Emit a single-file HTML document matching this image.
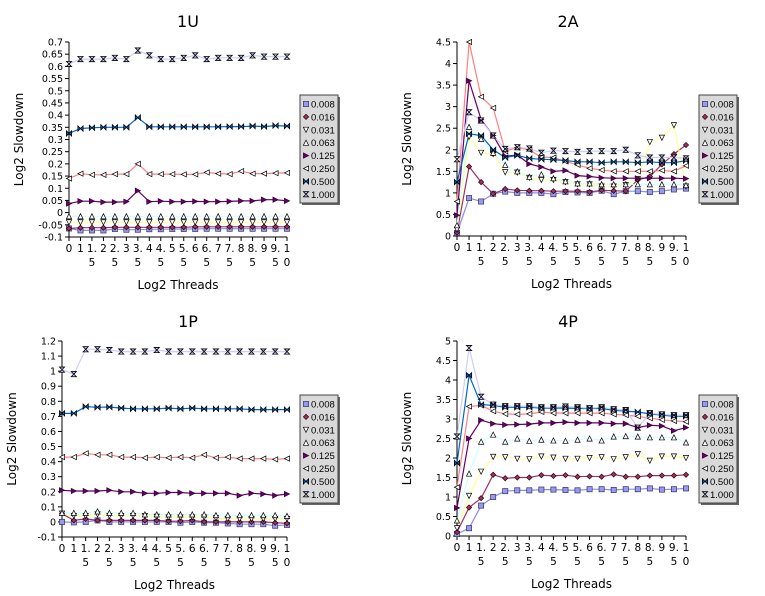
<!DOCTYPE html>
<html><head><meta charset="utf-8">
<style>
html,body{margin:0;padding:0;background:#fff;}
svg{display:block;font-family:"DejaVu Sans","Liberation Sans",sans-serif;}
</style></head>
<body>
<svg id="chart" width="765" height="596" viewBox="0 0 765 596" xmlns="http://www.w3.org/2000/svg"></svg>
<script>
const categories = ["0","1","1.5","2","2.5","3","3.5","4","4.5","5","5.5","6","6.5","7","7.5","8","8.5","9","9.5","10"];
const seriesNames = ["0.008","0.016","0.031","0.063","0.125","0.250","0.500","1.000"];

const u1_008 = [-0.065,-0.073,-0.073,-0.073,-0.067,-0.07,-0.07,-0.068,-0.068,-0.067,-0.067,-0.067,-0.066,-0.066,-0.066,-0.066,-0.066,-0.066,-0.066,-0.066];
const u1_016 = [-0.065,-0.062,-0.062,-0.062,-0.06,-0.06,-0.06,-0.06,-0.06,-0.06,-0.06,-0.058,-0.058,-0.058,-0.058,-0.058,-0.058,-0.058,-0.058,-0.058];
const u1_031 = [-0.04,-0.04,-0.04,-0.04,-0.04,-0.04,-0.04,-0.04,-0.04,-0.04,-0.04,-0.04,-0.04,-0.04,-0.04,-0.04,-0.04,-0.04,-0.04,-0.04];
const u1_063 = [-0.015,-0.015,-0.015,-0.015,-0.015,-0.015,-0.015,-0.015,-0.015,-0.015,-0.015,-0.015,-0.015,-0.015,-0.015,-0.015,-0.015,-0.015,-0.015,-0.015];
const u1_125 = [0.037,0.047,0.047,0.043,0.043,0.045,0.09,0.045,0.047,0.045,0.045,0.046,0.045,0.045,0.046,0.048,0.048,0.053,0.053,0.048];
const u1_250 = [0.14,0.16,0.155,0.155,0.158,0.158,0.2,0.158,0.158,0.158,0.157,0.157,0.165,0.16,0.158,0.17,0.16,0.16,0.162,0.163];
const u1_500 = [0.325,0.345,0.348,0.35,0.35,0.35,0.39,0.352,0.352,0.352,0.352,0.352,0.352,0.352,0.353,0.353,0.355,0.353,0.357,0.355];
const u1_1000 = [0.61,0.63,0.63,0.63,0.635,0.63,0.665,0.645,0.63,0.63,0.635,0.645,0.63,0.635,0.635,0.635,0.645,0.64,0.64,0.64];

const a2_008 = [0.07,0.88,0.8,0.98,1.03,1.0,1.0,1.0,0.97,1.02,1.01,1.0,1.05,0.97,1.04,1.04,1.02,1.04,1.08,1.1];
const a2_016 = [0.08,1.61,1.25,0.98,1.09,1.06,1.05,1.05,1.04,1.04,1.04,1.02,1.06,1.05,1.04,1.3,1.38,1.66,1.9,2.11];
const a2_031 = [0.15,2.3,1.93,1.9,1.48,1.47,1.35,1.3,1.3,1.25,1.2,1.2,1.15,1.15,1.18,1.32,2.18,2.28,2.57,1.15];
const a2_063 = [0.25,2.53,2.25,1.93,1.65,1.5,1.37,1.43,1.34,1.27,1.22,1.22,1.2,1.2,1.2,1.2,1.2,1.2,1.2,1.18];
const a2_125 = [0.48,3.6,2.7,2.33,1.85,1.88,1.67,1.6,1.5,1.52,1.4,1.38,1.35,1.34,1.34,1.34,1.34,1.34,1.34,1.33];
const a2_250 = [0.8,4.5,3.23,2.97,1.97,2.05,2.0,1.83,1.82,1.73,1.65,1.57,1.53,1.5,1.5,1.5,1.5,1.52,1.5,1.63];
const a2_500 = [1.25,2.37,2.33,2.0,1.82,1.87,1.8,1.78,1.77,1.75,1.72,1.72,1.7,1.72,1.72,1.7,1.72,1.7,1.7,1.75];
const a2_1000 = [1.78,2.87,2.68,2.33,2.02,2.06,2.03,1.93,1.98,1.97,1.95,1.97,1.97,1.97,2.0,1.87,1.82,1.82,1.82,1.8];

const p1_008 = [0.0,-0.003,0.0,0.01,0.0,0.0,0.0,0.0,0.0,0.0,-0.005,0.0,-0.005,-0.005,-0.01,-0.015,-0.015,-0.015,-0.025,-0.02];
const p1_016 = [0.055,0.01,0.02,0.01,0.01,0.01,0.01,0.01,0.01,0.005,0.005,0.01,0.0,0.0,0.0,0.0,0.0,0.0,-0.005,-0.01];
const p1_031 = [0.055,0.04,0.04,0.05,0.04,0.04,0.04,0.04,0.035,0.03,0.03,0.03,0.03,0.025,0.02,0.02,0.02,0.02,0.02,0.02];
const p1_063 = [0.06,0.06,0.06,0.07,0.06,0.06,0.06,0.05,0.05,0.05,0.05,0.05,0.05,0.045,0.045,0.045,0.045,0.045,0.045,0.04];
const p1_125 = [0.21,0.205,0.205,0.205,0.21,0.2,0.2,0.19,0.19,0.195,0.195,0.19,0.19,0.19,0.19,0.175,0.19,0.185,0.175,0.185];
const p1_250 = [0.43,0.43,0.455,0.445,0.445,0.43,0.43,0.425,0.43,0.425,0.43,0.425,0.445,0.425,0.43,0.42,0.42,0.42,0.415,0.42];
const p1_500 = [0.72,0.72,0.765,0.76,0.762,0.755,0.75,0.75,0.75,0.755,0.75,0.755,0.75,0.75,0.75,0.75,0.745,0.745,0.745,0.745];
const p1_1000 = [1.01,0.98,1.145,1.145,1.14,1.13,1.13,1.13,1.14,1.13,1.13,1.13,1.13,1.13,1.13,1.13,1.13,1.13,1.13,1.13];

const p4_008 = [0.05,0.2,0.78,1.0,1.15,1.17,1.17,1.19,1.19,1.18,1.17,1.2,1.2,1.18,1.2,1.2,1.22,1.19,1.2,1.22];
const p4_016 = [0.1,0.73,0.97,1.57,1.48,1.5,1.5,1.56,1.54,1.56,1.52,1.53,1.52,1.58,1.52,1.52,1.55,1.55,1.55,1.57];
const p4_031 = [0.2,1.03,1.65,2.03,2.02,1.98,1.97,2.04,2.01,1.98,1.98,2.0,2.02,1.97,2.02,2.1,1.93,2.04,2.04,2.0];
const p4_063 = [0.4,1.6,2.42,2.6,2.42,2.5,2.44,2.47,2.45,2.44,2.47,2.5,2.45,2.55,2.56,2.55,2.53,2.53,2.53,2.4];
const p4_125 = [0.72,2.5,2.97,2.88,2.85,2.86,2.87,2.9,2.9,2.92,2.9,2.9,2.9,2.88,2.88,2.78,2.84,2.82,2.7,2.78];
const p4_250 = [1.25,3.32,3.35,3.2,3.13,3.12,3.13,3.18,3.15,3.15,3.15,3.15,3.15,3.12,3.1,3.07,3.02,2.98,2.95,2.93];
const p4_500 = [1.87,4.12,3.37,3.35,3.3,3.3,3.3,3.28,3.28,3.28,3.27,3.27,3.27,3.22,3.2,3.18,3.13,3.1,3.07,3.07];
const p4_1000 = [2.55,4.82,3.57,3.37,3.33,3.33,3.33,3.3,3.3,3.32,3.3,3.28,3.3,3.25,3.23,2.78,3.15,3.12,3.1,3.1];

const ticks1U = [-0.1,-0.05,0,0.05,0.1,0.15,0.2,0.25,0.3,0.35,0.4,0.45,0.5,0.55,0.6,0.65,0.7];
const ticks1P = [-0.1,0,0.1,0.2,0.3,0.4,0.5,0.6,0.7,0.8,0.9,1,1.1,1.2];
const ticks2A = [0,0.5,1,1.5,2,2.5,3,3.5,4,4.5];
const ticks4P = [0,0.5,1,1.5,2,2.5,3,3.5,4,4.5,5];

const NS = "http://www.w3.org/2000/svg";
const svg = document.getElementById("chart");
const lineColors = ["#8c8ce6","#993366","#ffff99","#ccffff","#660066","#ff8080","#0066cc","#ccccff"];

function mk(tag, attrs, parent){
  const e = document.createElementNS(NS, tag);
  for (const k in attrs) e.setAttribute(k, attrs[k]);
  (parent||svg).appendChild(e);
  return e;
}
function fmt(v){ return String(Math.round(v*1000)/1000); }

function marker(g, t, x, y){
  const s = 2.6;
  let e;
  if (t===0) e = mk("rect",{x:x-s,y:y-s,width:2*s,height:2*s,fill:"#9999ee",stroke:"#333366","stroke-width":0.7},g);
  else if (t===1) e = mk("polygon",{points:`${x},${y-s} ${x+s},${y} ${x},${y+s} ${x-s},${y}`,fill:"#993366",stroke:"#330000","stroke-width":0.7},g);
  else if (t===2) e = mk("polygon",{points:`${x-s},${y-s} ${x+s},${y-s} ${x},${y+s}`,fill:"#fff",stroke:"#000","stroke-width":0.7},g);
  else if (t===3) e = mk("polygon",{points:`${x-s},${y+s} ${x+s},${y+s} ${x},${y-s}`,fill:"#fff",stroke:"#000","stroke-width":0.7},g);
  else if (t===4) e = mk("polygon",{points:`${x-s},${y-s} ${x+s},${y} ${x-s},${y+s}`,fill:"#660066",stroke:"#330033","stroke-width":0.7},g);
  else if (t===5) e = mk("polygon",{points:`${x+s},${y-s} ${x-s},${y} ${x+s},${y+s}`,fill:"#fff",stroke:"#000","stroke-width":0.7},g);
  else if (t===6) e = mk("polygon",{points:`${x-s},${y-s} ${x},${y} ${x+s},${y-s} ${x+s},${y+s} ${x},${y} ${x-s},${y+s}`,fill:"#0066cc",stroke:"#000","stroke-width":0.8},g);
  else e = mk("polygon",{points:`${x-s},${y-s} ${x+s},${y-s} ${x},${y} ${x+s},${y+s} ${x-s},${y+s} ${x},${y}`,fill:"#ccccff",stroke:"#000","stroke-width":0.8},g);
  
  
}

function panel(id, title, titleX, titleY, x0, x1, yTop, yBot, ticks, series, legX, legY){
  const g = mk("g",{});
  
  
  const ymin = ticks[0], ymax = ticks[ticks.length-1];
  const xs = i => x0 + (x1-x0)*i/(categories.length-1);
  const ys = v => yBot - (v-ymin)/(ymax-ymin)*(yBot-yTop);

  const t = mk("text",{x:titleX,y:titleY,"font-size":16,"text-anchor":"middle",fill:"#000"},g);
  t.textContent = title;
  
  

  const yt = mk("text",{x:0,y:0,"font-size":12,"text-anchor":"middle",fill:"#000",transform:`translate(${x0-46},${(yTop+yBot)/2}) rotate(-90)`},g);
  yt.textContent = "Log2 Slowdown";
  
  

  const xt = mk("text",{x:(x0+x1)/2,y:yBot+52,"font-size":12,"text-anchor":"middle",fill:"#000"},g);
  xt.textContent = "Log2 Threads";
  
  

  const ax = mk("line",{x1:x0,y1:yTop,x2:x0,y2:yBot,stroke:"#000","stroke-width":1},g);
  
  
  const bx = mk("line",{x1:x0,y1:yBot,x2:x1,y2:yBot,stroke:"#000","stroke-width":1},g);
  
  

  ticks.forEach(v => {
    const y = ys(v);
    mk("line",{x1:x0-4,y1:y,x2:x0,y2:y,stroke:"#000"},g);
    const tl = mk("text",{x:x0-6,y:y+3.5,"font-size":9.5,"text-anchor":"end",fill:"#000"},g);
    tl.textContent = fmt(v);
    
    
  });
  categories.forEach((c,i) => {
    const x = xs(i);
    mk("line",{x1:x,y1:yBot,x2:x,y2:yBot+4,stroke:"#000"},g);
    const parts = c.indexOf(".")>=0 ? [c.split(".")[0]+".", c.split(".")[1]] : (c.length===2 ? [c[0],c[1]] : [c]);
    parts.forEach((p,k) => {
      const tl = mk("text",{x:x,y:yBot+15+k*14,"font-size":10.5,"text-anchor":"middle",fill:"#000"},g);
      tl.textContent = p;
      
      
    });
  });

  series.forEach((vals, s) => {
    const pts = vals.map((v,i)=>`${xs(i).toFixed(1)},${ys(v).toFixed(1)}`).join(" ");
    const pl = mk("polyline",{points:pts,fill:"none",stroke:lineColors[s],"stroke-width":1.2},g);
    
    
  });
  series.forEach((vals, s) => {
    vals.forEach((v,i) => marker(g, s, xs(i), ys(v)));
  });

  const lg = mk("g",{},g);
  
  
  mk("rect",{x:legX+2,y:legY+2,width:38,height:108,fill:"#666"},lg);
  mk("rect",{x:legX,y:legY,width:38,height:108,fill:"#d9d9d9",stroke:"#444","stroke-width":1},lg);
  seriesNames.forEach((n,s) => {
    const y = legY + 9 + s*12.9;
    marker(lg, s, legX+6, y);
    const tx = mk("text",{x:legX+11,y:y+3.5,"font-size":9.5,"font-family":"Liberation Sans, sans-serif",fill:"#000"},lg);
    tx.textContent = n;
    
    
  });
}

panel("1u","1U",188,27,69,287,42,237,ticks1U,[u1_008,u1_016,u1_031,u1_063,u1_125,u1_250,u1_500,u1_1000],300,95);
panel("2a","2A",568,27,457,686,42,236,ticks2A,[a2_008,a2_016,a2_031,a2_063,a2_125,a2_250,a2_500,a2_1000],699,95);
panel("1p","1P",188,327,62,287,341,537,ticks1P,[p1_008,p1_016,p1_031,p1_063,p1_125,p1_250,p1_500,p1_1000],300,395);
panel("4p","4P",568,327,457,686,341,536,ticks4P,[p4_008,p4_016,p4_031,p4_063,p4_125,p4_250,p4_500,p4_1000],699,395);
</script>
</body></html>
